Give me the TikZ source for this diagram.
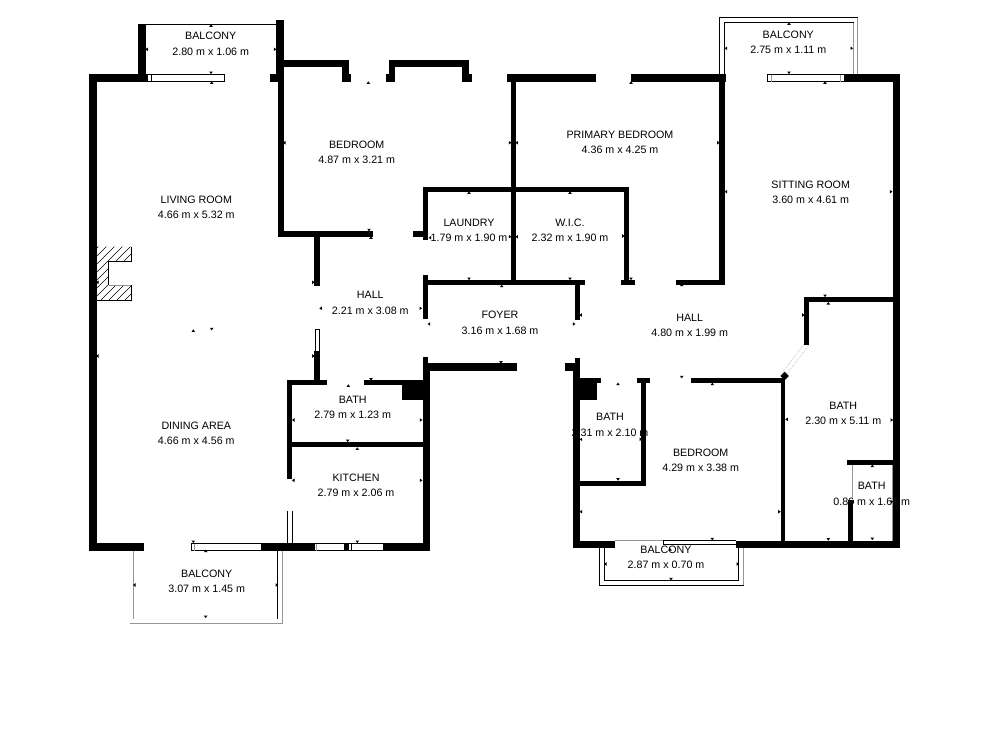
\documentclass[tikz,border=0pt]{standalone}
\usepackage{fontspec}
\setmainfont{Liberation Sans}
\definecolor{grayi}{RGB}{150,150,150}
\definecolor{grayii}{RGB}{200,200,200}
\tikzset{
      myroom/.style={
        align=center,
        inner sep=0pt,
        font=\fontsize{10.7}{15.3}\selectfont
      },
      mywall/.style={
        fill=black
      },
      mywindow/.style={
        draw=black,
        fill=white,
        line width=0.8pt
      },
      myrail/.style={
        draw=black,
        line width=0.8pt
      },
      mygrayrail/.style={
        draw=grayi,
        line width=0.8pt
      },
    }
\begin{document}
\begin{tikzpicture}[x=1pt,y=-1pt]
            \useasboundingbox[fill=white] (0,0) rectangle (1000,750);

            %Etiquetes
            \node[myroom] (balconyNW) at (210.7,43.8) {BALCONY\\2.80 m x 1.06 m};
            \node[myroom] (bedroomN) at (356.7,152) {BEDROOM\\4.87 m x 3.21 m};
            \node[myroom] (living) at (196.3,207.6) {LIVING ROOM\\4.66 m x 5.32 m};
            \node[myroom] (laundry) at (469,230.3) {LAUNDRY\\1.79 m x 1.90 m};
            \node[myroom] (hallW) at (370.3,303) {HALL\\2.21 m x 3.08 m};
            \node[myroom] (foyer) at (500,322.8) {FOYER\\3.16 m x 1.68 m};
            \node[myroom] (primary) at (620,142) {PRIMARY BEDROOM\\4.36 m x 4.25 m};
            \node[myroom] (balconyNE) at (788.3,42.6) {BALCONY\\2.75 m x 1.11 m};
            \node[myroom] (wic) at (570,230) {W.I.C.\\2.32 m x 1.90 m};
            \node[myroom] (sitting) at (810.7,192.6) {SITTING ROOM\\3.60 m x 4.61 m};
            \node[myroom] (hallE) at (689.7,325.6) {HALL\\4.80 m x 1.99 m};
            \node[myroom] (bathE) at (843.3,413.6) {BATH\\2.30 m x 5.11 m};
            \node[myroom] (bathMid) at (610,425) {BATH\\2.31 m x 2.10 m};
            \node[myroom] (bedroomS) at (700.7,460.3) {BEDROOM\\4.29 m x 3.38 m};
            \node[myroom] (bathSmall) at (871.7,494) {BATH\\0.86 m x 1.60 m};
            \node[myroom] (balconyS) at (666,557.6) {BALCONY\\2.87 m x 0.70 m};
            \node[myroom] (dining) at (196.3,433) {DINING AREA\\4.66 m x 4.56 m};
            \node[myroom] (bathW) at (352.7,407.6) {BATH\\2.79 m x 1.23 m};
            \node[myroom] (kitchen) at (356,485.6) {KITCHEN\\2.79 m x 2.06 m};
            \node[myroom] (balconySW) at (206.7,581) {BALCONY\\3.07 m x 1.45 m};

            %Balcons
            \draw[myrail] (138,24.5) -- (276,24.5);
            \draw[myrail] (719.5,74) |- (857.5,17.5);
            \draw[mygrayrail] (857.5,17.5) -- (857.5,74);
            \draw[myrail] (724.5,74) |- (853.5,22.5);
            \draw[mygrayrail] (853.5,22.5) -- (853.5,74);
            \draw[myrail] (277.5,550) -- (277.5,619);
            \draw[mygrayrail] (133.5,550) -- (133.5,619);
            \draw[mygrayrail] (129.5,623.5) -- (282.5,623.5) -- (282.5,550);
            \draw[myrail] (599.8,547) |- (743.5,585);
            \draw[mygrayrail] (743.5,585) -- (743.5,547);
            \draw[myrail] (604.8,547) |- (738.5,580) -- (738.5,547);

            %Finestres
            \draw[mywindow] (147,74.5) rectangle (224.5,81.5);
            \draw[myrail] (151,74.5) -- (151,81.5);
            \draw[mywindow] (767.5,74.5) rectangle (844,81.5);
            \draw[mygrayrail] (771.5,74.5) -- (771.5,81.5) (840,74.5) -- (840,81.5);
            \draw[mywindow] (191.5,543.5) rectangle (261,550.5);
            \draw[mygrayrail] (194.5,543.5) -- (194.5,550.5);
            \draw[mywindow] (314,543.5) rectangle (344,550.5);
            \draw[mygrayrail] (316.7,543.5) -- (316.7,550.5);
            \draw[mywindow] (348,543.5) rectangle (383.5,550.5);
            \draw[myrail] (351.3,543.5) -- (351.3,550.5);
            \draw[mywindow] (315,329.5) rectangle (319.5,351);
            \draw[mygrayrail] (615,540.5) -- (663,540.5);
            \draw[myrail] (663,540.5) -- (736,540.5) (663,540.5) |- (736,544.5);
            \draw[myrail] (287.5,511) -- (287.5,543.5);
            \draw[myrail] (292.5,511) -- (292.5,543.5);
            \draw[mygrayrail] (852.7,465) -- (852.7,497);
            \draw[mygrayrail] (892.4,465) -- (892.4,541);

            %Portes
            \draw[grayii,densely dotted,line width=0.8pt] (809,345) -- (786,375);
            \draw[grayii,densely dotted,line width=0.8pt] (805,343) -- (782,373);

            %Fireplace
            \begin{scope}
              \clip (97,246.5) -- (131.5,246.5) -- (131.5,261.5) -- (108.5,261.5) -- (108.5,285) -- (131.5,285) -- (131.5,300.5) -- (97,300.5) -- cycle;
              \foreach \hatchx in {40,48,...,136}
                \draw[line width=0.6pt] (\hatchx,305) -- ++(60,-60);
            \end{scope}
            \draw[line width=0.8pt] (131.5,246.5) -- (131.5,261.5) -- (108.5,261.5) -- (108.5,285);
            \draw[grayi,line width=0.8pt] (108.5,285) -- (131.5,285);
            \draw[line width=0.8pt] (131.5,285) -- (131.5,300.5) -- (97,300.5);

            %Murs
            \foreach \xa/\ya/\xb/\yb in {
              89/74/97/550.7, 89/74/146.7/81.7, 89/543.3/144/550.7,
              138.3/24.3/145.7/74, 276/20/283.7/81.7, 270/74/276/81.7,
              278.3/81.7/283.7/236.7, 278.3/231/372.7/236.7, 314/236.7/319.7/285.7,
              283.7/60/349/66.7, 342.3/60/349/74, 342.3/74/350.7/81.7,
              389.3/60/469.3/66.7, 389.3/60/395.3/74, 386.3/74/395.3/81.7,
              462/60/469.3/74, 462/74/472/81.7,
              507.3/74/596/81.7, 631/74/726/81.7, 511/81.7/516/285,
              422.7/186.7/629/192, 422.7/186.7/428/240, 413.3/231/428/236.7,
              624/192/629/280, 621/280/635/285, 422.7/280/585/285,
              422.7/275/428/319, 575/285/580/320,
              719.3/81.7/725/285, 676/280/725/285,
              892.7/74/900/547.7, 844/74/900/81.7,
              804.3/296.7/892.7/301.7, 804.3/296.7/809.3/345,
              780.7/377.7/785.3/541, 690.7/377.7/783.3/383,
              637/377.7/650/383, 641/383/646/486, 580/480.7/646/486,
              575/358.3/580/371, 564.7/362.7/580/370.7, 572.7/370.7/580/547.7,
              580/378/597/400, 580/378/601/383,
              572.7/540.7/615/547.7, 736/540.7/900/547.7,
              847.3/460/892.7/465.3, 847.7/500/852.7/540.7,
              314/350.7/319.7/380, 287.3/380/327/385, 363.7/380/423.3/385,
              402/380/423.3/400, 287.3/380/292.3/478.7, 292.3/442/423/447.3,
              422.7/357.3/428/363.3, 428/363.3/516.7/370.7, 422.7/363.3/430/550.7,
              261/543.3/314/550.7, 344/543.3/348/550.7, 383.3/543.3/430/550.7}
              \fill[mywall] (\xa,\ya) rectangle (\xb,\yb);
            \fill[mywall,rotate around={45:(784.7,376)}] (781.7,373) rectangle (787.7,379);

            %Marques de mesura
            \foreach \markx/\marky/\markangle in {
              211/25.7/0, 211/72.7/180, 146.7/49.3/90, 275/49.3/270,
              211.7/82.7/0, 97.3/282.3/90, 211.7/329/180, 193.3/330.7/0,
              284.3/142.7/90, 510/142.7/270, 368.3/82.7/0, 369/230/180,
              469/192.7/0, 430/237.7/90, 510/236.7/270, 469/278.7/180,
              313.3/282.3/270, 320.7/308.3/90, 420.7/308.3/270, 371/237.7/0,
              429/324/90, 501.7/286/0, 574/324/270, 501/362.3/180,
              631/82.7/0, 516.7/142.7/90, 718.3/142.7/270,
              570/192.7/0, 516.7/236.7/90, 623.3/236/270, 570/278.7/180,
              789/23.7/0, 726/48.3/90, 851.7/48.3/270, 789/72.7/180,
              825/82.7/0, 726/191.7/90, 891/191.7/270, 825/295.7/180,
              631/278.7/180, 681.7/285/0, 803.3/315/270, 580.7/315/90, 681.7/377/180,
              828.3/303.3/0, 786.7/419.3/90, 891.7/420/270, 828.3/539.3/180,
              872.3/466/0, 852.7/501.7/90, 891.7/501.7/270, 872.3/538.7/180,
              712.3/384/0, 581/511.7/90, 779.3/511.7/270, 712.3/539/180,
              618/384/0, 581/439.3/90, 640.7/439.3/270, 618/479.3/180,
              670/549.3/0, 605.3/564/90, 737.7/564/270, 671/579/180,
              97.3/356/90, 313.3/356/270, 193.3/541.7/180,
              205.7/551/0, 134.3/585/90, 276.7/585/270, 205.7/616.7/180,
              348.3/385.7/0, 293.3/420/90, 421/420/270, 347.7/440.7/180,
              357.3/448.7/0, 293.3/480.3/90, 421/480.3/270, 357.3/541.7/180,
              371/379.3/180}
              \fill[shift={(\markx,\marky)},rotate=\markangle] (-1.8,1.2) -- (1.8,1.2) -- (0,-1.4) -- cycle;

          \end{tikzpicture}
\end{document}
